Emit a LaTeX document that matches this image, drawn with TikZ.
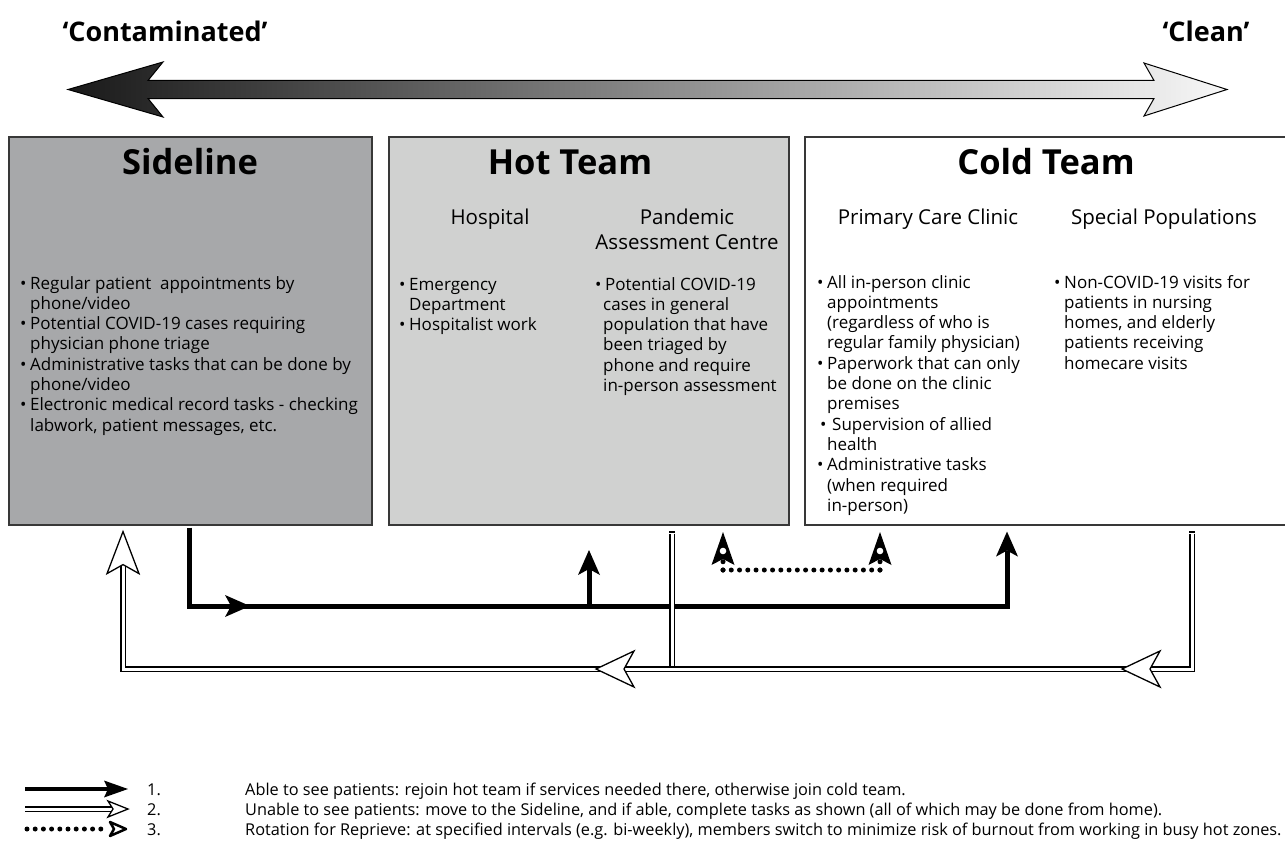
\documentclass[tikz,border=0pt]{standalone}
\usepackage{fontspec}
\setmainfont{Open Sans}
\usetikzlibrary{arrows.meta}
\definecolor{sidegray}{HTML}{A7A8AA}
\definecolor{hotgray}{HTML}{D0D1D0}
\definecolor{edgegray}{HTML}{383838}
\newcommand{\bul}{\makebox[10pt][l]{•}}
\newcommand{\cnt}{\hspace*{10pt}}
\newcommand{\listbox}[1]{\parbox[t]{400pt}{\fontsize{17}{20.3}\selectfont\raggedright #1}}
\tikzset{
  teambox/.style={draw=edgegray, line width=1.6pt, anchor=north west, minimum height=388pt, inner sep=0pt},
  teamtitle/.style={anchor=base, inner sep=0pt, font=\fontsize{34.5}{40}\selectfont\bfseries},
  subhead/.style={anchor=base, inner sep=0pt, font=\fontsize{20.5}{26}\selectfont},
  listtext/.style={anchor=base west, inner sep=0pt},
  toplabel/.style={anchor=base, inner sep=0pt, font=\fontsize{27}{32}\selectfont\bfseries},
  legtext/.style={anchor=base west, inner sep=0pt, font=\fontsize{16.3}{20}\selectfont},
  conn1/.style={line width=5pt, black},
  blkhead/.style={-{Stealth[length=25pt,width=22pt,inset=6pt,line width=0pt]}},
  dbl/.style={double=white, double distance=3pt, line width=1.3pt, black},
  dotln/.style={line width=5pt, line cap=round, dash pattern=on 0pt off 8.26pt},
  openhead/.pic={\draw[fill=white, line width=1.3pt, line join=miter] (0,0) -- (-38,-18) -- (-28,0) -- (-38,18) -- cycle;},
  openheadup/.pic={\draw[fill=white, line width=1.3pt, line join=miter] (0,0) -- (-42,-16) -- (-33,0) -- (-42,16) -- cycle;},
  dothead/.pic={\fill[black] (0,0) -- (-33,-11.5) -- (-27,0) -- (-33,11.5) -- cycle; \fill[white] (-19,0) circle (3.3);},
  legopen/.pic={\draw[fill=white, line width=1.3pt, line join=miter] (0,0) -- (-20,-8) -- (-15,0) -- (-20,8) -- cycle;},
  legdot/.pic={\draw[fill=white, line width=2.5pt, line join=round] (-2,0) -- (-18,-7) -- (-14,0) -- (-18,7) -- cycle;},
}
\begin{document}
\begin{tikzpicture}[x=1pt,y=-1pt]
\useasboundingbox (0,0) rectangle (1285,843);
\fill[white] (0,0) rectangle (1285,843);

% top labels
\node[toplabel] (lc) at (165,42) {‘Contaminated’};
\node[toplabel] (lr) at (1206,42) {‘Clean’};

% gradient double arrow
\path[draw=black, line width=1pt, line join=miter, left color=black!90, right color=black!3]
  (68,89.5) -- (163,62) -- (148,80.5) -- (1154,80.5) -- (1144,63) -- (1227,89.5)
  -- (1144,116) -- (1154,98.5) -- (148,98.5) -- (163,117) -- cycle;

% boxes
\node[teambox, fill=sidegray, minimum width=363pt] (sl) at (8,136) {};
\node[teambox, fill=hotgray, minimum width=400pt] (hot) at (388,136) {};
\node[teambox, fill=white, minimum width=520pt] (cl) at (804,136) {};

% titles
\node[teamtitle] (slt) at (190,174) {Sideline};
\node[teamtitle] (hott) at (570,174) {Hot Team};
\node[teamtitle] (clt) at (1046,174) {Cold Team};

% sub headings
\node[subhead] (hosp) at (490,224) {Hospital};
\node[subhead] (pac) at (687,224) {\parbox[t]{240pt}{\centering\fontsize{20.5}{25.5}\selectfont Pandemic\\Assessment Centre}};
\node[subhead] (pcc) at (928,224) {Primary Care Clinic};
\node[subhead] (spp) at (1164,224) {Special Populations};

% lists
\node[listtext] (sll) at (20,289) {\listbox{%
\bul Regular patient\ \ appointments by\\
\cnt phone/video\\
\bul Potential COVID-19 cases requiring\\
\cnt physician phone triage\\
\bul Administrative tasks that can be done by\\
\cnt phone/video\\
\bul Electronic medical record tasks - checking\\
\cnt labwork, patient messages, etc.}};

\node[listtext] (hol) at (399,290) {\listbox{%
\bul Emergency\\
\cnt Department\\
\bul Hospitalist work}};

\node[listtext] (pal) at (595,290) {\listbox{%
\bul Potential COVID-19\\
\hspace*{8pt}cases in general\\
\hspace*{8pt}population that have\\
\hspace*{8pt}been triaged by\\
\hspace*{8pt}phone and require\\
\hspace*{8pt}in-person assessment}};

\node[listtext] (pcl) at (817,288) {\listbox{%
\bul All in-person clinic\\
\cnt appointments\\
\cnt (regardless of who is\\
\cnt regular family physician)\\
\bul Paperwork that can only\\
\cnt be done on the clinic\\
\cnt premises\\
\hspace*{3pt}\makebox[12pt][l]{•}Supervision of allied\\
\cnt health\\
\bul Administrative tasks\\
\cnt (when required\\
\cnt in-person)}};

\node[listtext] (spl) at (1054,288) {\listbox{%
\bul Non-COVID-19 visits for\\
\cnt patients in nursing\\
\cnt homes, and elderly\\
\cnt patients receiving\\
\cnt homecare visits}};

% connector type 1
\coordinate (a1) at (189,606);
\coordinate (a2) at (1007,606);
\coordinate (a3) at (589,606);
\coordinate (a3t) at (589,550);
\coordinate (m1) at (250,606);
\draw[conn1, line join=miter, blkhead, shorten <=2pt, shorten >=6pt] (sl.south -| a1) -- (a1) -- (a2) -- (cl.south -| a2);
\draw[conn1, blkhead] (a1) -- (m1);
\draw[conn1, blkhead] (a3) -- (a3t);

% connector type 2
\coordinate (b1) at (1192,669);
\coordinate (b2) at (123,669);
\coordinate (b3) at (672,669);
\draw[dbl, line join=miter, shorten <=8pt, shorten >=39pt] (cl.south -| b1) -- (b1) -- (b2) -- (sl.south -| b2);
\draw[dbl, shorten <=8pt, shorten >=2.6pt] (hot.south -| b3) -- (b3);
\draw[line width=1.3pt] (1189.2,532) -- (1194.8,532);
\draw[line width=1.3pt] (669.2,532) -- (674.8,532);
\pic[rotate=180] at (1122,669) {openhead};
\pic[rotate=180] at (596,669) {openhead};
\pic[rotate=90] at ([yshift=-6pt]sl.south -| b2) {openheadup};

% connector type 3
\coordinate (d1) at (723,570);
\coordinate (d2) at (880,570);
\coordinate (d1t) at (723,545);
\coordinate (d2t) at (880,545);
\draw[dotln] (d1) -- (d1t);
\draw[dotln] (d2) -- (d2t);
\draw[dotln] (d1) -- (d2);
\pic[rotate=90] at (723,532) {dothead};
\pic[rotate=90] at (880,532) {dothead};

% legend
\coordinate (l1a) at (25,789);
\coordinate (l1b) at (128,789);
\coordinate (l2a) at (25,809);
\coordinate (l2b) at (112,809);
\coordinate (l2t) at (128,809);
\coordinate (l3a) at (27,829);
\coordinate (l3b) at (101,829);
\coordinate (l3t) at (128,829);
\draw[line width=4.5pt, -{Stealth[length=24pt,width=17pt,inset=4pt,line width=0pt]}] (l1a) -- (l1b);
\draw[dbl] (l2a) -- (l2b);
\pic at (l2t) {legopen};
\draw[dotln, dash pattern=on 0pt off 8.2pt] (l3a) -- (l3b);
\pic at (l3t) {legdot};

\node[legtext] (n1) at (147,795) {1.};
\node[legtext] (n2) at (147,815) {2.};
\node[legtext] (n3) at (147,835) {3.};
\node[legtext] (t1) at (245,795) {Able to see patients: rejoin hot team if services needed there, otherwise join cold team.};
\node[legtext] (t2) at (245,815) {Unable to see patients: move to the Sideline, and if able, complete tasks as shown (all of which may be done from home).};
\node[legtext] (t3) at (245,835) {Rotation for Reprieve: at specified intervals (e.g. bi-weekly), members switch to minimize risk of burnout from working in busy hot zones.};
\end{tikzpicture}
\end{document}
